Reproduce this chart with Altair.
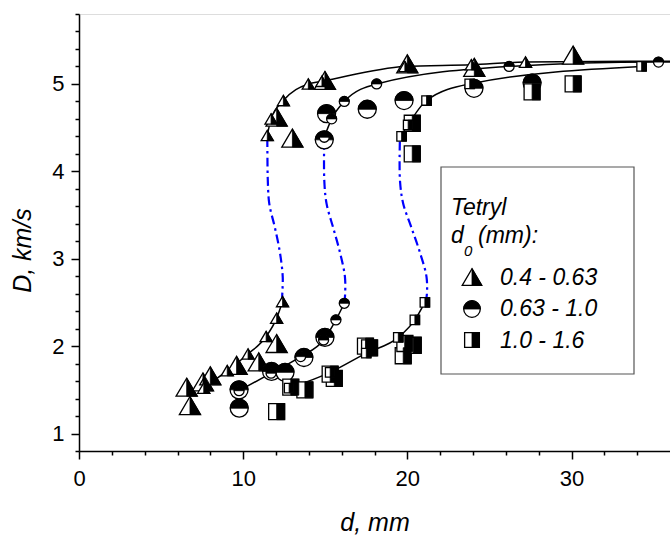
import altair as alt
import pandas as pd

FONT = "Liberation Sans"

# ---------------- data ----------------
# d0 = 0.4 - 0.63 mm (triangles)
tri_big_x = [6.56, 6.76, 7.55, 8.0, 9.6, 10.95, 12.04, 12.04, 13.0, 14.98, 20.0, 24.08, 30.1]
tri_big_y = [1.53, 1.32, 1.59, 1.66, 1.78, 1.82, 2.03, 4.62, 4.38, 5.04, 5.23, 5.19, 5.33]
tri_low_x = [7.6, 9.03, 10.3, 11.4, 12.04, 12.4]
tri_low_y = [1.52, 1.72, 1.91, 2.11, 2.32, 2.51]
tri_up_x = [11.47, 11.7, 12.45, 13.97, 14.8, 19.85, 23.9, 27.2]
tri_up_y = [4.41, 4.6, 4.81, 5.0, 5.03, 5.2, 5.22, 5.25]
tri_end_x = [36.0]
tri_end_y = [5.26]
tri_blue_x = [12.4, 12.38, 12.41, 12.24, 11.94, 11.59, 11.5, 11.48, 11.47]
tri_blue_y = [2.51, 2.56, 2.79, 3.07, 3.35, 3.63, 3.90, 4.13, 4.41]

# d0 = 0.63 - 1.0 mm (circles)
cir_big_x = [9.75, 9.76, 11.73, 12.55, 13.7, 14.98, 14.94, 15.08, 17.56, 19.8, 24.06, 27.6]
cir_big_y = [1.50, 1.29, 1.71, 1.70, 1.87, 2.10, 4.36, 4.66, 4.71, 4.81, 4.95, 5.01]
cir_low_x = [9.75, 11.7, 13.5, 14.9, 15.65, 16.16]
cir_low_y = [1.49, 1.69, 1.88, 2.07, 2.30, 2.49]
cir_up_x = [14.94, 15.39, 16.16, 18.13, 26.2, 35.3]
cir_up_y = [4.39, 4.60, 4.80, 5.0, 5.20, 5.25]
cir_end_x = [36.0]
cir_end_y = [5.25]
cir_blue_x = [16.16, 16.2, 16.2, 15.9, 15.49, 15.08, 14.94, 14.94]
cir_blue_y = [2.49, 2.56, 2.79, 3.07, 3.35, 3.63, 3.90, 4.39]

# d0 = 1.0 - 1.6 mm (squares)
sq_big_x = [12.04, 12.9, 13.76, 15.55, 15.3, 17.45, 17.7, 19.75, 19.85, 20.36, 20.3, 20.3, 27.6, 30.1]
sq_big_y = [1.25, 1.53, 1.50, 1.63, 1.68, 2.0, 1.98, 1.89, 2.03, 2.01, 4.55, 4.20, 4.91, 5.0]
sq_low_x = [12.8, 15.3, 17.5, 19.45, 20.46, 21.07]
sq_low_y = [1.52, 1.70, 1.92, 2.10, 2.30, 2.50]
sq_up_x = [19.65, 20.05, 21.17, 23.8, 34.27]
sq_up_y = [4.40, 4.53, 4.81, 5.0, 5.2]
sq_blue_x = [21.07, 21.17, 21.17, 20.77, 20.26, 19.75, 19.55, 19.55]
sq_blue_y = [2.50, 2.56, 2.79, 3.07, 3.35, 3.63, 3.90, 4.39]

legend_title = "Tetryl"
legend_labels = ["0.4 - 0.63", "0.63 - 1.0", "1.0 - 1.6"]

x_ticks = [0, 2, 4, 6, 8, 10, 12, 14, 16, 18, 20, 22, 24, 26, 28, 30, 32, 34]
y_ticks = [0.8, 1.0, 1.2, 1.4, 1.6, 1.8, 2.0, 2.2, 2.4, 2.6, 2.8, 3.0, 3.2, 3.4,
           3.6, 3.8, 4.0, 4.2, 4.4, 4.6, 4.8, 5.0, 5.2, 5.4, 5.6, 5.8]

# ---------------- shapes (unit box -1..1) ----------------
TRI = "M0,-0.85L1,0.85L-1,0.85Z"
TRI_H = "M0,-0.85L1,0.85L0,0.85Z"
CIR = "M-1,0A1,1,0,1,1,1,0A1,1,0,1,1,-1,0Z"
CIR_H = "M-1,0A1,1,0,0,1,1,0Z"
SQ = "M-1,-1L1,-1L1,1L-1,1Z"
SQ_H = "M0,-1L1,-1L1,1L0,1Z"

xs = alt.Scale(domain=[0, 36], nice=False, zero=False)
ys = alt.Scale(domain=[0.8, 5.8], nice=False, zero=False)

x_axis = alt.Axis(
    values=x_ticks,
    labelExpr="datum.value % 10 === 0 ? datum.label : ''",
    tickSize={"condition": {"test": "datum.value % 10 === 0", "value": 8}, "value": 4},
    title="d, mm", titleFontStyle="italic", titleFontWeight="normal",
    titleFontSize=25, titleFont=FONT, titleY=79, titleBaseline="alphabetic",
    labelFontSize=22, labelFont=FONT, labelPadding=9, labelColor="black",
    grid=False, domainColor="black", domainWidth=1.5, tickColor="black", tickWidth=1.5,
    labelFlush=False, labelOverlap=False,
)
y_axis = alt.Axis(
    values=y_ticks,
    labelExpr="abs(datum.value - round(datum.value)) < 0.001 ? format(datum.value, 'd') : ''",
    tickSize={"condition": {"test": "abs(datum.value - round(datum.value)) < 0.001", "value": 8}, "value": 4},
    title="D, km/s", titleFontStyle="italic", titleFontWeight="normal",
    titleFontSize=25, titleFont=FONT, titleX=-49, titleY=236, titleBaseline="alphabetic",
    titleAngle=270, titleAlign="center",
    labelFontSize=22, labelFont=FONT, labelPadding=7, labelColor="black",
    grid=False, domainColor="black", domainWidth=1.5, tickColor="black", tickWidth=1.5,
    labelFlush=False, labelOverlap=False,
)

X = alt.X("x:Q", scale=xs, axis=x_axis)
Y = alt.Y("y:Q", scale=ys, axis=y_axis)


def pts(xl, yl):
    return pd.DataFrame({"x": xl, "y": yl})


def line_df(xl, yl, name):
    return pd.DataFrame({"x": xl, "y": yl, "o": list(range(len(xl))), "s": name})


def markers(df, base_shape, half_shape, size):
    base = alt.Chart(df).mark_point(shape=base_shape, size=size, filled=True, fill="white",
                                    stroke="black", strokeWidth=1.3, opacity=1).encode(x=X, y=Y)
    half = alt.Chart(df).mark_point(shape=half_shape, size=size, filled=True, fill="black",
                                    stroke="black", strokeWidth=0.8, opacity=1).encode(x=X, y=Y)
    return [base, half]


black_lines = pd.concat([
    line_df(tri_low_x, tri_low_y, "tl"),
    line_df(tri_up_x + tri_end_x, tri_up_y + tri_end_y, "tu"),
    line_df(cir_low_x, cir_low_y, "cl"),
    line_df(cir_up_x + cir_end_x, cir_up_y + cir_end_y, "cu"),
    line_df(sq_low_x, sq_low_y, "sl"),
    line_df(sq_up_x, sq_up_y, "su"),
])
blue_lines = pd.concat([
    line_df(tri_blue_x, tri_blue_y, "tb"),
    line_df(cir_blue_x, cir_blue_y, "cb"),
    line_df(sq_blue_x, sq_blue_y, "sb"),
])

layers = []
layers.append(alt.Chart(black_lines).mark_line(color="black", strokeWidth=1.5, interpolate="monotone")
              .encode(x=X, y=Y, detail="s:N", order="o:Q"))
layers.append(alt.Chart(blue_lines).mark_line(color="#0000ff", strokeWidth=2.2, strokeDash=[9, 4, 2.5, 4],
                                              interpolate="catmull-rom")
              .encode(x=X, y=Y, detail="s:N", order="o:Q"))

# big markers
layers += markers(pts(tri_big_x, tri_big_y), TRI, TRI_H, 450)
layers += markers(pts(cir_big_x, cir_big_y), CIR, CIR_H, 324)
layers += markers(pts(sq_big_x, sq_big_y), SQ, SQ_H, 256)
# small markers
layers += markers(pts(tri_low_x + tri_up_x, tri_low_y + tri_up_y), TRI, TRI_H, 150)
layers += markers(pts(cir_low_x + cir_up_x, cir_low_y + cir_up_y), CIR, CIR_H, 100)
layers += markers(pts(sq_low_x + sq_up_x, sq_low_y + sq_up_y), SQ, SQ_H, 90)

# ---------------- legend box (pixel positions inside plot area) ----------------
one = alt.Data(values=[{"a": 1}])
layers.append(alt.Chart(one).mark_rect(fill="white", stroke="#555555", strokeWidth=1.2).encode(
    x=alt.value(362), x2=alt.value(555), y=alt.value(153), y2=alt.value(360)))


def txt(s, x, y, size=23):
    return alt.Chart(one).mark_text(align="left", baseline="alphabetic", font=FONT, fontSize=size,
                                    fontStyle="italic", color="black").encode(
        x=alt.value(x), y=alt.value(y), text=alt.value(s))


layers.append(txt(legend_title, 372, 201))
layers.append(txt("d", 372, 229))
layers.append(txt("0", 385, 242, 15))
layers.append(txt("(mm):", 399, 229))

leg_shapes = [(TRI, TRI_H, 450), (CIR, CIR_H, 324), (SQ, SQ_H, 256)]
leg_sym_y = [263, 295, 326]
leg_txt_y = [271, 302, 334]
for (b, h, sz), sy, ty, lab in zip(leg_shapes, leg_sym_y, leg_txt_y, legend_labels):
    layers.append(alt.Chart(one).mark_point(shape=b, size=sz * 0.85, filled=True, fill="white",
                                            stroke="black", strokeWidth=1.3, opacity=1)
                  .encode(x=alt.value(393), y=alt.value(sy)))
    layers.append(alt.Chart(one).mark_point(shape=h, size=sz * 0.85, filled=True, fill="black",
                                            stroke="black", strokeWidth=0.8, opacity=1)
                  .encode(x=alt.value(393), y=alt.value(sy)))
    layers.append(txt(lab, 421, ty))

chart = alt.layer(*layers).properties(
    width=591, height=437,
    padding={"left": 79, "top": 14, "right": 0, "bottom": 85},
    autosize=alt.AutoSizeParams(type="none"),
).configure_view(strokeWidth=0).configure(background="white")

chart.save("out.html", embed_options={"renderer": "svg", "actions": False})
